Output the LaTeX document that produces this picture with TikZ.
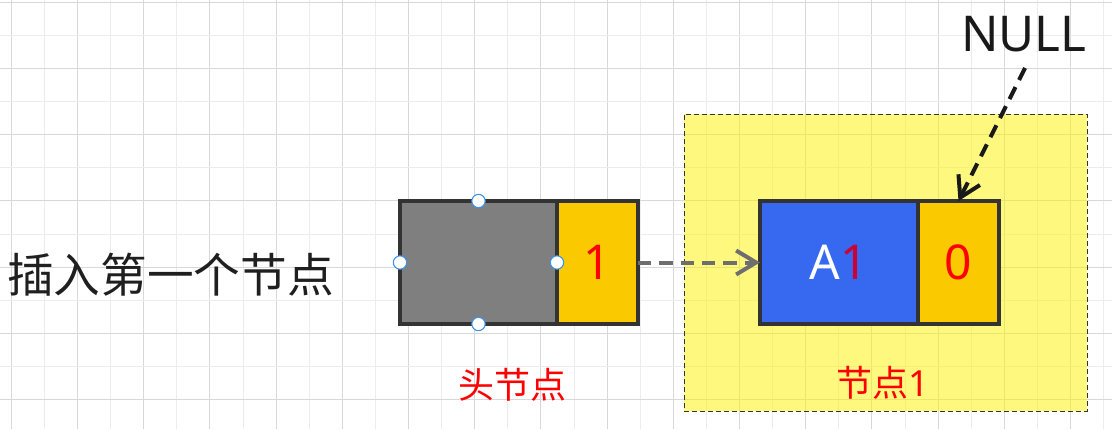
\documentclass[tikz,border=0pt]{standalone}
\usepackage{fontspec}
\setmainfont{Noto Sans}
\newfontfamily\cjk{Noto Sans CJK SC}
\usepackage{xcolor}
\usepackage{tikz}
\usetikzlibrary{arrows.meta,positioning}

\definecolor{cellgray}{RGB}{127,127,127}
\definecolor{cellyellow}{RGB}{250,201,0}
\definecolor{cellblue}{RGB}{54,105,240}
\definecolor{celledge}{RGB}{51,51,51}
\definecolor{handleblue}{RGB}{60,145,235}
\definecolor{valred}{RGB}{204,0,51}
\definecolor{ptrgray}{RGB}{110,110,110}
\definecolor{majorline}{RGB}{216,216,216}
\definecolor{minorline}{RGB}{236,236,236}

\begin{document}
\begin{tikzpicture}[x=0.75pt,y=0.75pt,yscale=-1,xscale=1,
  majorgrid/.style={draw=majorline, line width=0.75pt},
  minorgrid/.style={draw=minorline, line width=0.75pt},
  cell/.style={draw=celledge, line width=2.4pt, outer sep=0pt, minimum height=92.25pt, inner sep=0pt, font=\fontsize{36}{40}\selectfont},
  handle/.style={circle, draw=handleblue, fill=white, line width=0.8pt, minimum size=10pt, inner sep=0pt},
  region/.style={draw=celledge, line width=0.75pt, dash pattern=on 3.5pt off 2.5pt, fill=yellow, fill opacity=0.5, minimum width=302.25pt, minimum height=222.75pt, inner sep=0pt},
  lbl/.style={inner sep=0pt, text=red, font=\cjk\fontsize{27}{30}\selectfont},
  ptrarrow/.style={draw=ptrgray, line width=3pt, dash pattern=on 10pt off 6pt, -{Straight Barb[length=15pt,width=18pt]}},
  nullarrow/.style={draw=black!90, line width=3pt, dash pattern=on 10pt off 6pt, -{Straight Barb[length=15pt,width=18pt]}}]
\useasboundingbox (0,0) rectangle (1112,429);

%Grid
\foreach \k in {0,...,33}{
  \pgfmathsetmacro\gx{11.3+33.1*\k}
  \ifodd\k \draw[minorgrid] (\gx,0) -- (\gx,429); \else \draw[majorgrid] (\gx,0) -- (\gx,429); \fi
}
\foreach \k in {0,...,12}{
  \pgfmathsetmacro\gy{2.3+33.1*\k}
  \ifodd\k \draw[minorgrid] (0,\gy) -- (1112,\gy); \else \draw[majorgrid] (0,\gy) -- (1112,\gy); \fi
}

%Shape: Rectangle [region of node 1]
\node[region] (box1) at (885.5,262.5) {};

%Shape: head node
\node[cell, fill=cellgray, minimum width=117.75pt] (head) at (478.5,262.5) {};
\node[cell, fill=cellyellow, minimum width=60.75pt, right=0pt of head] (headptr) {\textcolor{red}{1}};

%Shape: node 1
\node[cell, fill=cellblue, minimum width=118.5pt] (node1) at (839,262.5) {\textcolor{white}{A}\textcolor{valred}{1}};
\node[cell, fill=cellyellow, minimum width=60.75pt, right=0pt of node1] (node1ptr) {\textcolor{red}{0}};

%Shape: selection handles
\node[handle] (hdlnorth) at (head.north) {};
\node[handle] (hdlwest) at (head.west) {};
\node[handle] (hdleast) at (head.east) {};
\node[handle] (hdlsouth) at (head.south) {};

% Text Node
\node[anchor=west, inner sep=0pt, text=black!88, font=\cjk\fontsize{35}{38}\selectfont] (title) at (7,274.5) {插入第一个节点};
% Text Node
\node[inner sep=0pt, text=black!90, font=\fontsize{37}{40}\selectfont] (null) at (1024,33.7) {NULL};
% Text Node
\node[lbl] (headlbl) at (512,385) {头节点};
% Text Node
\node[lbl] (node1lbl) at (883,383) {节点\fontspec{Noto Sans}1};

%Straight Lines
\draw[ptrarrow] (headptr.east) -- (node1.west);
%Straight Lines
\coordinate (nulltail) at (1025,68);
\draw[nullarrow] (nulltail) -- (node1ptr.north);

\end{tikzpicture}
\end{document}
